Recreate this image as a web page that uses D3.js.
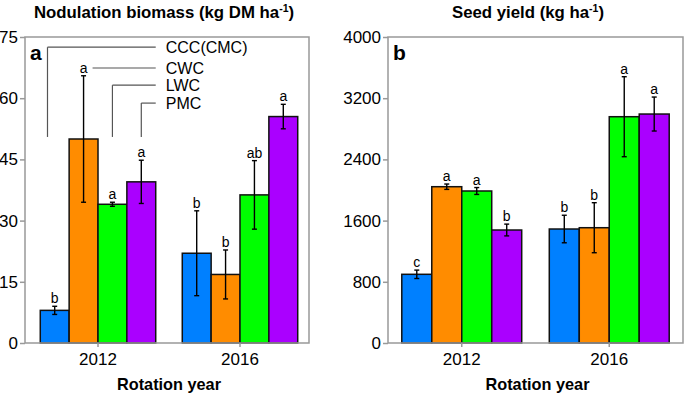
<!DOCTYPE html>
<html>
<head>
<meta charset="utf-8">
<script src="https://cdn.jsdelivr.net/npm/d3@7"></script>
<style>
  body { margin: 0; background: #fff; }
  svg { font-family: "Liberation Sans", Arial, sans-serif; }
</style>
</head>
<body>
<svg id="chart" width="685" height="396"></svg>
<script>
const years = ["2012", "2016"];
const series = ["CCC(CMC)", "CWC", "LWC", "PMC"];
const colors = ["#0080ff", "#ff8c00", "#00ff00", "#aa00ff"];

// nodulation biomass (kg DM/ha), rows = year, cols = series
const nodMean = [[8, 50, 34, 39.5], [22, 16.8, 36.3, 55.5]];
const nodErr = [[1, 15.5, 0.5, 5.3], [10.4, 6, 8.4, 3]];
const nodLetters = [["b", "a", "a", "a"], ["b", "b", "ab", "a"]];
const nodTicks = [0, 15, 30, 45, 60, 75];

// seed yield (kg/ha)
const seedMean = [[898, 2043, 1987, 1477], [1490, 1507, 2958, 2993]];
const seedErr = [[55, 35, 45, 77], [180, 327, 523, 222]];
const seedLetters = [["c", "a", "a", "b"], ["b", "b", "a", "a"]];
const seedTicks = [0, 800, 1600, 2400, 3200, 4000];

const svg = d3.select("#chart");
const plotTop = 37, plotBottom = 343;
const axisColor = "#999";

function panel(opts) {
  const { left, right, shift, max, ticks, mean, err, letters, title, titleX, tag } = opts;
  const g = svg.append("g");

  const x0 = d3.scaleBand().domain(years).range([left + shift, right + shift]).padding(0);
  const x1 = d3.scaleBand().domain(series).range([0, x0.bandwidth()])
    .paddingInner(0).paddingOuter(0.46);
  const y = d3.scaleLinear().domain([0, max]).range([plotBottom, plotTop]);

  const data = [];
  years.forEach((yr, i) => series.forEach((s, j) => {
    data.push({ yr, s, j, v: mean[i][j], e: err[i][j], l: letters[i][j] });
  }));

  // bars
  g.selectAll("rect.bar").data(data).join("rect")
    .attr("class", "bar")
    .attr("x", d => x0(d.yr) + x1(d.s))
    .attr("y", d => y(d.v))
    .attr("width", x1.bandwidth())
    .attr("height", d => y(0) - y(d.v))
    .attr("fill", d => colors[d.j])
    .attr("stroke", "#111")
    .attr("stroke-width", 1.5);

  // error bars
  const cx = d => x0(d.yr) + x1(d.s) + x1.bandwidth() / 2;
  const eb = g.selectAll("g.err").data(data).join("g").attr("class", "err")
    .attr("stroke", "#000").attr("stroke-width", 1.4);
  eb.append("line")
    .attr("x1", cx).attr("x2", cx)
    .attr("y1", d => y(d.v + d.e)).attr("y2", d => y(d.v - d.e));
  [1, -1].forEach(sign => {
    eb.append("line")
      .attr("x1", d => cx(d) - 2.5).attr("x2", d => cx(d) + 2.5)
      .attr("y1", d => y(d.v + sign * d.e)).attr("y2", d => y(d.v + sign * d.e));
  });

  // significance letters
  g.selectAll("text.sig").data(data).join("text")
    .attr("class", "sig")
    .attr("x", cx)
    .attr("y", d => y(d.v + d.e) - 3)
    .attr("text-anchor", "middle")
    .attr("font-size", 14)
    .text(d => d.l);

  // frame
  g.append("rect")
    .attr("x", left).attr("y", plotTop)
    .attr("width", right - left).attr("height", plotBottom - plotTop)
    .attr("fill", "none").attr("stroke", axisColor).attr("stroke-width", 1.5);

  // y axis
  const ya = g.append("g").attr("transform", `translate(${left},0)`)
    .call(d3.axisLeft(y).tickValues(ticks).tickFormat(d3.format("d")).tickSize(5).tickPadding(2));
  ya.select(".domain").remove();
  ya.selectAll(".tick line").attr("stroke", axisColor).attr("stroke-width", 1.5);
  ya.selectAll(".tick text").attr("font-size", 17).attr("fill", "#000")
    .attr("font-family", "Liberation Sans, Arial, sans-serif");

  // x axis
  const xa = g.append("g").attr("transform", `translate(0,${plotBottom})`)
    .call(d3.axisBottom(x0).tickSize(4).tickPadding(6));
  xa.select(".domain").remove();
  xa.selectAll(".tick line").attr("stroke", axisColor).attr("stroke-width", 1.5);
  xa.selectAll(".tick text").attr("font-size", 17).attr("fill", "#000")
    .attr("font-family", "Liberation Sans, Arial, sans-serif");

  g.append("text")
    .attr("x", (left + right) / 2 + 2).attr("y", 390)
    .attr("text-anchor", "middle").attr("font-weight", "bold").attr("font-size", 16.3)
    .text("Rotation year");

  const t = g.append("text")
    .attr("x", titleX).attr("y", 18)
    .attr("text-anchor", "middle").attr("font-weight", "bold").attr("font-size", 16.8);
  t.append("tspan").text(title);
  t.append("tspan").attr("font-size", 10.5).attr("dy", -6).text("-1");
  t.append("tspan").attr("dy", 6).text(")");

  g.append("text")
    .attr("x", left + 5).attr("y", 60)
    .attr("font-weight", "bold").attr("font-size", 21)
    .text(tag);

  return { x0, x1, y, g };
}

const a = panel({
  left: 25, right: 309, shift: 2, max: 75, ticks: nodTicks,
  mean: nodMean, err: nodErr, letters: nodLetters,
  title: "Nodulation biomass (kg DM ha", titleX: 164, tag: "a"
});

panel({
  left: 388, right: 683, shift: 0, max: 4000, ticks: seedTicks,
  mean: seedMean, err: seedErr, letters: seedLetters,
  title: "Seed yield (kg ha", titleX: 528, tag: "b"
});

// leader-line legend in panel a (levels in data units)
const legendLevel = [72.5, 67.4, 63.2, 58.8];
const legendDrop = 50.5;
const legendFrac = [0.25, null, 0.5, 0.5];
const bw = a.x1.bandwidth();
const endX = a.x0("2012") + a.x1(series[3]) + bw;
const lg = a.g.append("g").attr("stroke", "#555").attr("stroke-width", 1.2).attr("fill", "none");
series.forEach((s, j) => {
  const ly = a.y(legendLevel[j]);
  let sx;
  if (legendFrac[j] === null) {
    sx = a.x0("2012") + a.x1(s) + bw / 2 + 9;
  } else {
    sx = a.x0("2012") + a.x1(s) + bw * legendFrac[j];
    lg.append("line").attr("x1", sx).attr("x2", sx)
      .attr("y1", ly).attr("y2", a.y(legendDrop));
  }
  lg.append("line").attr("x1", sx).attr("x2", endX).attr("y1", ly).attr("y2", ly);
  a.g.append("text")
    .attr("x", endX + 10).attr("y", ly + 6)
    .attr("font-size", 16)
    .text(s);
});
</script>
</body>
</html>
